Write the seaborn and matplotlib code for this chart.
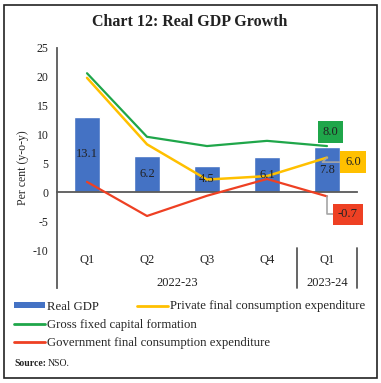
import matplotlib
matplotlib.use("Agg")
import matplotlib.pyplot as plt
import seaborn as sns
import pandas as pd
import numpy as np
from matplotlib.patches import Rectangle, Patch
from matplotlib.lines import Line2D

# ---- data ----
quarters = ["Q1", "Q2", "Q3", "Q4", "Q1"]
years = ["2022-23", "2023-24"]
year_spans = [(0, 3), (4, 4)]
real_gdp = [13.1, 6.2, 4.5, 6.1, 7.8]
pfce = [19.8, 8.3, 2.2, 2.8, 6.0]
gfcf = [20.6, 9.6, 8.0, 8.9, 8.0]
gfce = [1.8, -4.1, -0.6, 2.3, -0.7]
yticks = [25, 20, 15, 10, 5, 0, -5, -10]

C_BAR = "#4472C4"
C_PFCE = "#FFC000"
C_GFCF = "#1FA64A"
C_GFCE = "#EE4023"
C_AX = "#595959"
SERIF = ["Liberation Serif", "DejaVu Serif"]

sns.set_theme(style="white")
plt.rcParams["font.family"] = SERIF

W, H = 381, 383
fig = plt.figure(figsize=(W / 100, H / 100), dpi=100)
ax = fig.add_axes([57 / W, 1 - 288 / H, 300 / W, (288 - 47.8) / H])

x = np.arange(len(quarters))
df = pd.DataFrame({"pos": x, "gdp": real_gdp})
sns.barplot(data=df, x="pos", y="gdp", color=C_BAR, width=0.42, ax=ax,
            native_scale=True, saturation=1, zorder=2)

sns.lineplot(x=x, y=gfce, color=C_GFCE, lw=1.6, ax=ax, zorder=3)
sns.lineplot(x=x, y=pfce, color=C_PFCE, lw=1.8, ax=ax, zorder=4)
sns.lineplot(x=x, y=gfcf, color=C_GFCF, lw=1.6, ax=ax, zorder=5)

# bar labels
for c in ax.containers:
    ax.bar_label(c, labels=[f"{v:.1f}" for v in real_gdp], label_type="center",
                 fontsize=9, color="#222222", zorder=6)

ax.set_xlim(-0.5, len(quarters) - 0.5)
ax.set_ylim(-16.56, 25)
ax.set_yticks(yticks)
ax.set_yticklabels([str(t) for t in yticks], fontsize=8.5)
ax.set_xticks(np.arange(len(quarters)) + 0.5)
ax.set_xticklabels([])
ax.set_xlabel("")
ax.set_ylabel("Per cent (y-o-y)", fontsize=8.5, labelpad=3)

for s in ["top", "right"]:
    ax.spines[s].set_visible(False)
ax.spines["left"].set_color(C_AX)
ax.spines["left"].set_linewidth(1.3)
ax.spines["bottom"].set_position(("data", 0))
ax.spines["bottom"].set_color(C_AX)
ax.spines["bottom"].set_linewidth(1.3)
ax.tick_params(axis="y", direction="out", length=4, width=1, color=C_AX, pad=2, labelcolor="#222222")
ax.tick_params(axis="x", direction="out", length=4, width=1, color=C_AX)

# category labels
for i, q in enumerate(quarters):
    ax.text(i, -11.7, q, ha="center", va="center", fontsize=9, color="#222222")
for (a, b), yr in zip(year_spans, years):
    ax.text((a + b) / 2, -15.7, yr, ha="center", va="center", fontsize=9, color="#222222")
for bx in [3.5, 4.5]:
    ax.plot([bx, bx], [-9.64, -16.56], color=C_AX, lw=1.3, clip_on=False)

# end labels
last = len(quarters) - 1
box_kw = dict(boxstyle="square,pad=0.38", ec="none")
ax.annotate(f"{gfcf[last]:.1f}", xy=(last, gfcf[last]), xytext=(3.5, 14),
            textcoords="offset pixels", ha="center", va="center", fontsize=9,
            color="#222222", bbox=dict(fc=C_GFCF, **box_kw), zorder=7)
ax.annotate(f"{pfce[last]:.1f}", xy=(last, pfce[last]), xytext=(26, -4.5),
            textcoords="offset pixels", ha="center", va="center", fontsize=9,
            color="#222222", bbox=dict(fc=C_PFCE, **box_kw),
            arrowprops=dict(arrowstyle="-", color="#A6A6A6", lw=1.2, shrinkA=0, shrinkB=0,
                            connectionstyle="angle,angleA=0,angleB=45,rad=0"), zorder=7)
ax.annotate(f"{gfce[last]:.1f}", xy=(last, gfce[last]), xytext=(21, -18),
            textcoords="offset pixels", ha="center", va="center", fontsize=9,
            color="#222222", bbox=dict(fc=C_GFCE, **box_kw),
            arrowprops=dict(arrowstyle="-", color="#A6A6A6", lw=1.2, shrinkA=0, shrinkB=0,
                            connectionstyle="angle,angleA=0,angleB=90,rad=0"), zorder=7)

# title
fig.text(190 / W, 1 - 22 / H, "Chart 12: Real GDP Growth", ha="center", va="center",
         fontsize=11.5, fontweight="bold", color="#222222")

# legends
h_gdp = Patch(fc=C_BAR, ec="none")
h_pfce = Line2D([], [], color=C_PFCE, lw=2)
h_gfcf = Line2D([], [], color=C_GFCF, lw=2)
h_gfce = Line2D([], [], color=C_GFCE, lw=2)
leg_kw = dict(frameon=False, fontsize=9.2, handlelength=2.4, handleheight=0.45,
              handletextpad=0.15, labelspacing=0.5, borderpad=0, borderaxespad=0)
leg1 = fig.legend([h_gdp, h_gfcf, h_gfce],
                  ["Real GDP", "Gross fixed capital formation",
                   "Government final consumption expenditure"],
                  loc="upper left", bbox_to_anchor=(14 / W, 1 - 300.5 / H), **leg_kw)
leg2 = fig.legend([h_pfce], ["Private final consumption expenditure"],
                  loc="upper left", bbox_to_anchor=(137 / W, 1 - 300.5 / H), **leg_kw)

# source
t = fig.text(14 / W, 1 - 363 / H, "Source:", fontsize=7, fontweight="bold",
             ha="left", va="center", color="#222222")
fig.canvas.draw()
bb = t.get_window_extent()
fig.text((bb.x1 + 2) / W, 1 - 363 / H, "NSO.", fontsize=7, ha="left", va="center", color="#222222")

# frame
fig.add_artist(Rectangle((4 / W, 1 - 378 / H), 373 / W, 373 / H, transform=fig.transFigure,
                         fill=False, ec="#222222", lw=1.2))

fig.savefig("out.png", dpi=100)
